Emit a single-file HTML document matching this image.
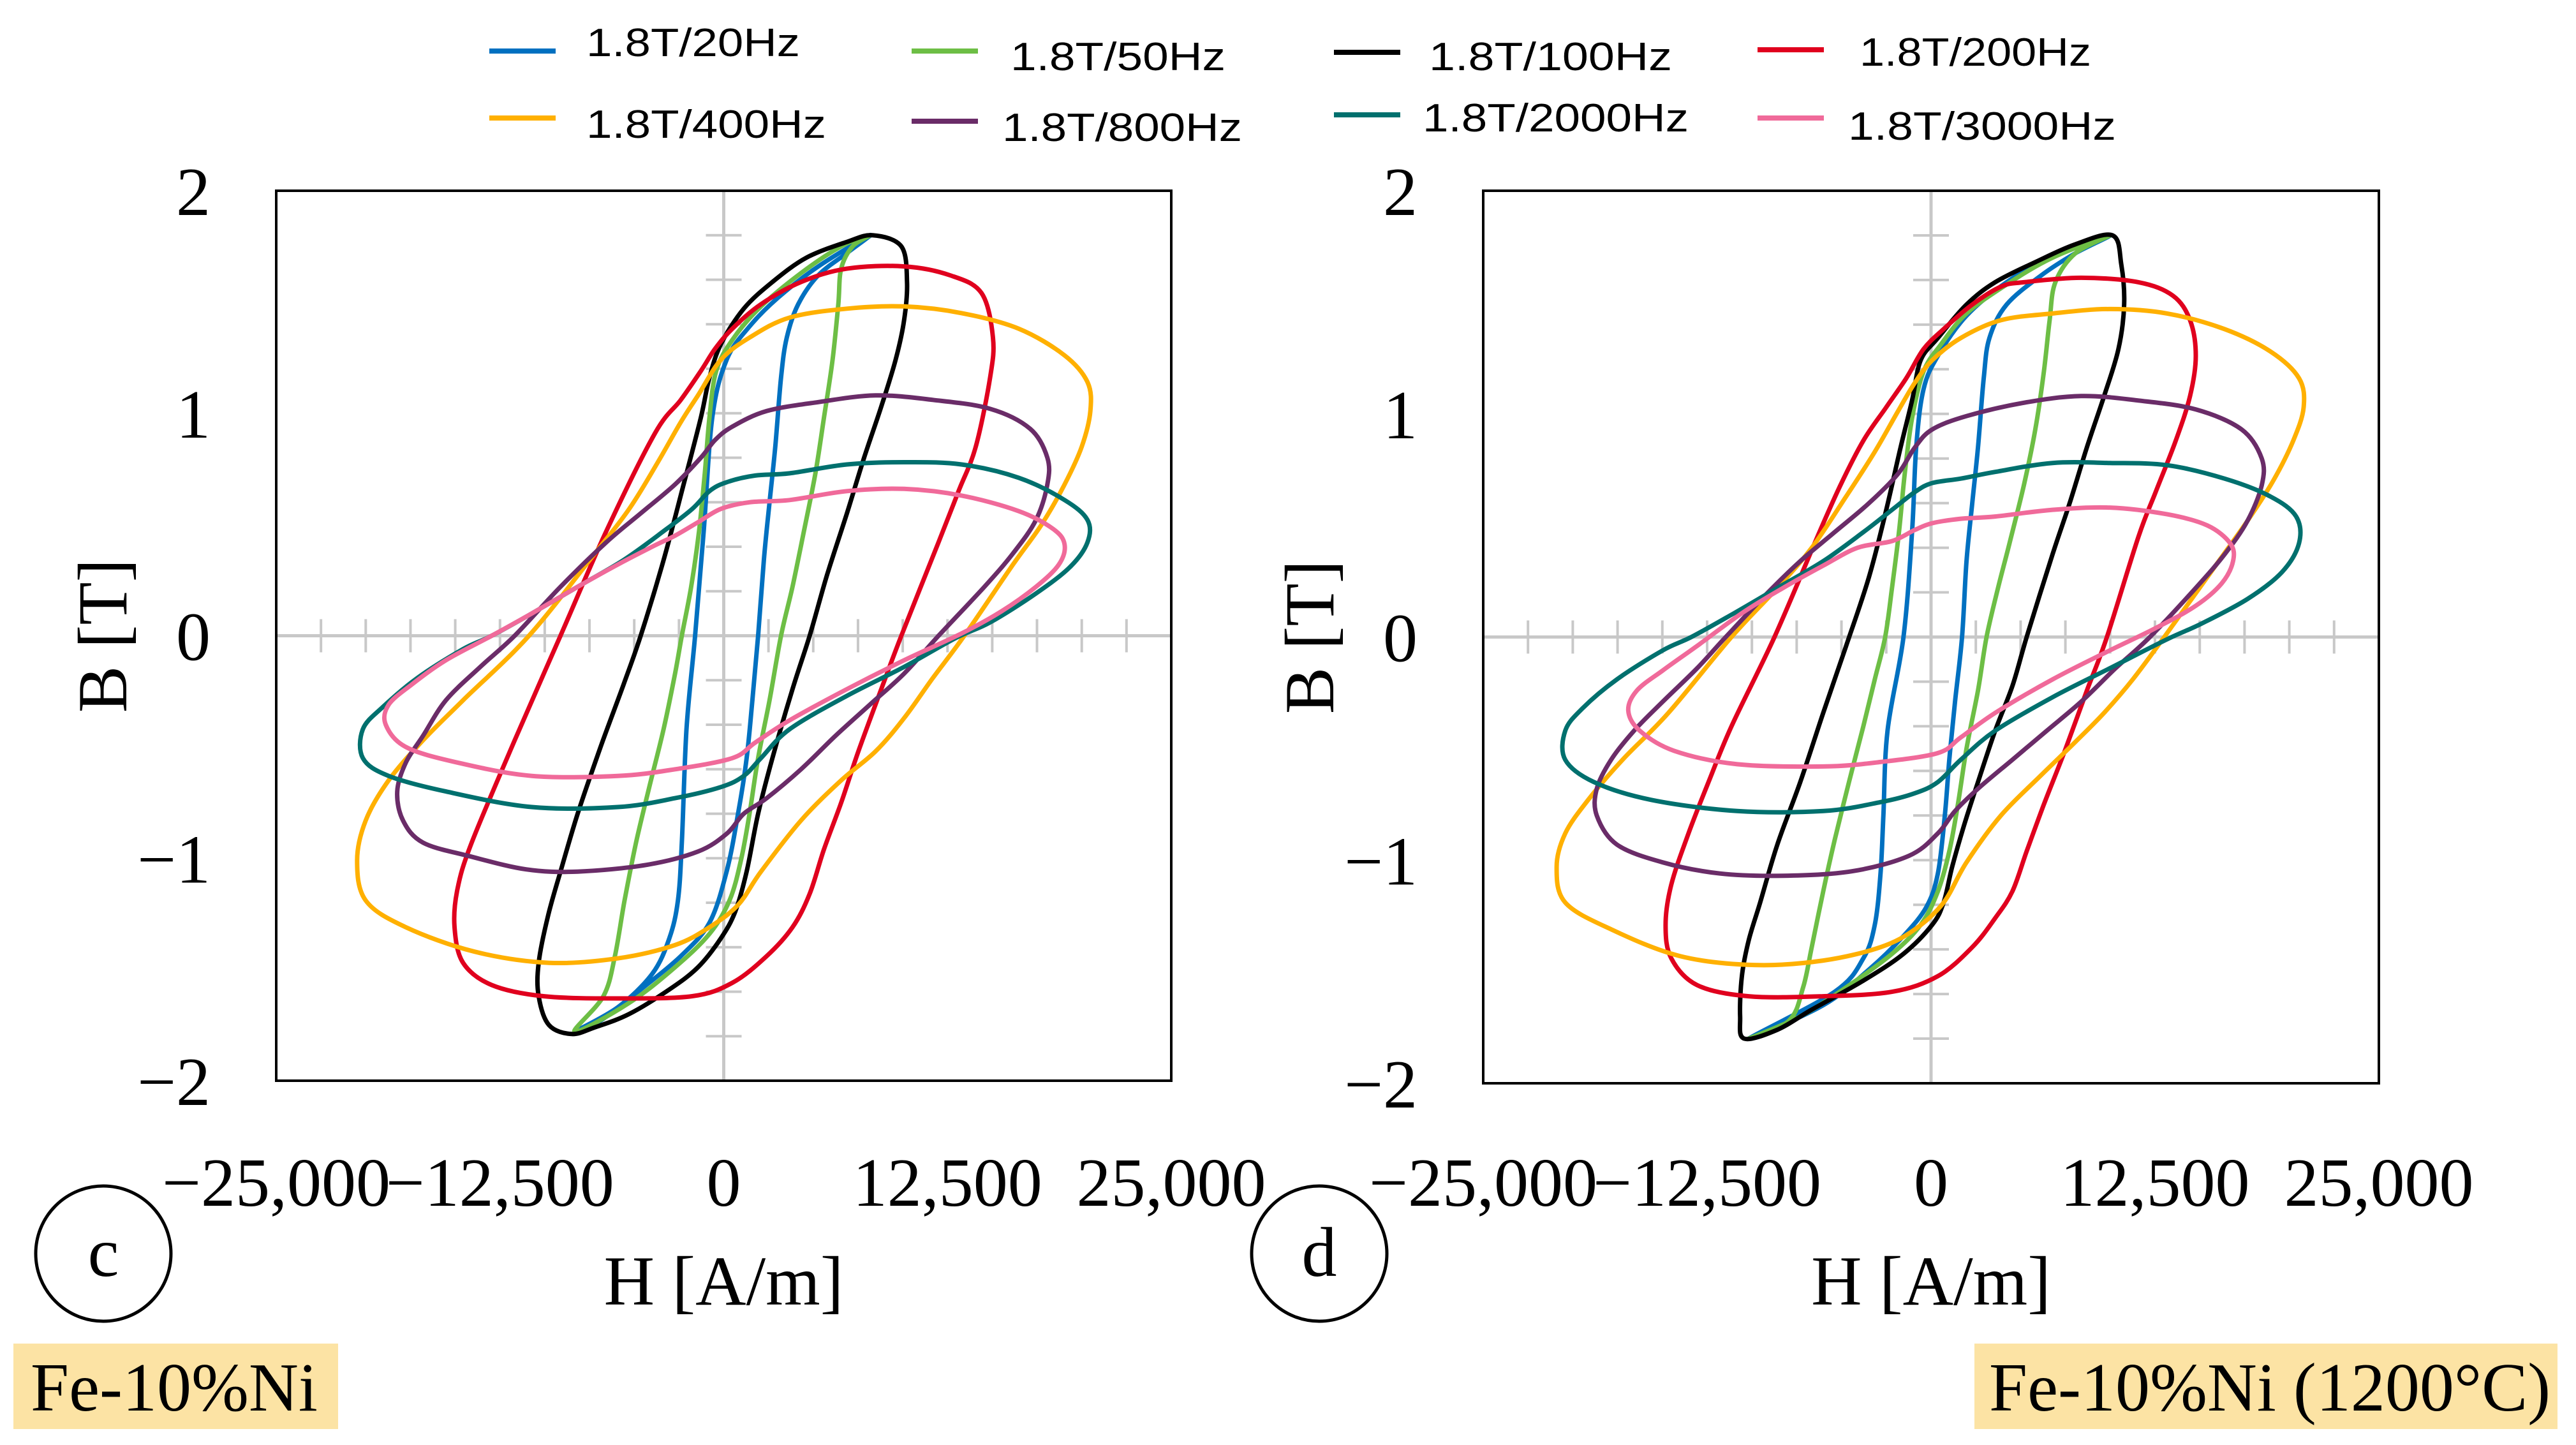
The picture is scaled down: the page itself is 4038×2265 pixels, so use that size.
<!DOCTYPE html>
<html><head><meta charset="utf-8"><style>
html,body{margin:0;padding:0;background:#fff;}
svg{display:block;}
</style></head><body>
<svg id="fig" width="4038" height="2265" viewBox="0 0 4038 2265" xmlns="http://www.w3.org/2000/svg">
<rect x="0" y="0" width="4038" height="2265" fill="#fff"/>
<g id="legend"></g>
<g id="panelC"></g>
<g id="panelD"></g>
<g>
  <circle cx="162" cy="1965" r="106" fill="none" stroke="#000" stroke-width="5"/>
  <text x="162" y="2000" font-family="Liberation Serif, serif" font-size="110" text-anchor="middle">c</text>
  <rect x="21" y="2106" width="509" height="134" fill="#FCE3A4"/>
  <text x="48" y="2211" font-family="Liberation Serif, serif" font-size="108">Fe-10%Ni</text>
</g>
<g>
  <circle cx="2068" cy="1965" r="106" fill="none" stroke="#000" stroke-width="5"/>
  <text x="2068" y="2000" font-family="Liberation Serif, serif" font-size="110" text-anchor="middle">d</text>
  <rect x="3095" y="2106" width="914" height="134" fill="#FCE3A4"/>
  <text x="3118" y="2211" font-family="Liberation Serif, serif" font-size="108">Fe-10%Ni (1200°C)</text>
</g>
</svg>
<script>
// ---------- data ----------
const seriesNames = ["1.8T/20Hz","1.8T/50Hz","1.8T/100Hz","1.8T/200Hz","1.8T/400Hz","1.8T/800Hz","1.8T/2000Hz","1.8T/3000Hz"];
const seriesColors = ["#0070C0","#6DBE45","#000000","#E0001E","#FFB000","#6A2C68","#00706E","#F06A9A"];
const xTickLabels = ["\u221225,000","\u221212,500","0","12,500","25,000"];
const xTickValues = [-25000,-12500,0,12500,25000];
const yTickLabels = ["2","1","0","\u22121","\u22122"];
const yTickValues = [2,1,0,-1,-2];

// Panel c (Fe-10%Ni)
const c20H=[8160,6880,5280,4160,3520,3200,2880,2560,2240,1920,1600,1280,800,160,-800,-2400,-4640,-6880,-8320,-5920,-4000,-3040,-2560,-2340,-2080,-1600,-1120,-640,160,1440,3040,5280];
const c20B=[1.80,1.72,1.62,1.49,1.34,1.16,0.85,0.60,0.34,0,-0.29,-0.55,-0.80,-1.06,-1.29,-1.44,-1.59,-1.73,-1.78,-1.67,-1.52,-1.36,-1.19,-0.93,-0.42,0,0.47,0.98,1.24,1.39,1.52,1.66];
const c50H=[8160,7200,6560,6400,6080,5600,5120,4480,3840,3200,2560,1920,1440,960,320,-800,-2720,-5280,-8320,-6720,-6080,-5540,-4900,-4160,-3360,-2720,-2340,-1820,-1380,-1060,-800,-420,480,2080,4320,6560];
const c50B=[1.80,1.75,1.65,1.49,1.24,0.98,0.73,0.47,0.22,0,-0.29,-0.55,-0.80,-1.01,-1.19,-1.34,-1.49,-1.65,-1.78,-1.62,-1.44,-1.19,-0.93,-0.68,-0.42,-0.17,0,0.22,0.47,0.73,0.98,1.19,1.33,1.48,1.63,1.75];
const c100H=[8320,9920,10240,10080,9600,8800,7840,6880,5760,4800,3840,2720,1920,1280,640,-160,-1440,-3040,-5280,-7200,-8480,-9760,-10340,-10340,-9820,-9120,-8160,-6880,-5600,-4640,-3360,-2240,-1280,-800,-160,1120,2720,4640,6880];
const c100B=[1.80,1.75,1.59,1.42,1.24,1.03,0.80,0.55,0.27,0,-0.24,-0.55,-0.80,-1.06,-1.24,-1.36,-1.49,-1.59,-1.70,-1.76,-1.79,-1.75,-1.62,-1.47,-1.26,-1.06,-0.80,-0.50,-0.22,0,0.34,0.68,0.98,1.16,1.31,1.47,1.59,1.70,1.77];
const c200H=[6880,10080,12640,14400,15040,14880,14080,13120,12000,9920,8800,7520,6560,5600,4800,3840,2400,480,-1760,-5920,-10080,-12960,-14560,-15040,-14880,-14080,-11680,-9120,-6560,-3840,-2400,-1280,-480,480,2080,4320];
const c200B=[1.65,1.66,1.62,1.54,1.34,1.16,0.85,0.65,0.42,0,-0.24,-0.52,-0.75,-0.96,-1.16,-1.31,-1.44,-1.56,-1.62,-1.63,-1.62,-1.57,-1.47,-1.31,-1.14,-0.93,-0.47,0,0.47,0.91,1.06,1.19,1.29,1.38,1.49,1.59];
const c400H=[6880,10080,13280,16480,19040,20320,20480,20000,19040,17760,16160,13440,11680,10080,8480,6560,4320,2080,800,-800,-2720,-5920,-9760,-13920,-17760,-20000,-20480,-20000,-18720,-16800,-14560,-10880,-7200,-5280,-3680,-2400,-1440,-160,1440,3680];
const c400B=[1.47,1.48,1.45,1.38,1.26,1.14,1.01,0.85,0.68,0.50,0.32,0,-0.19,-0.37,-0.52,-0.65,-0.83,-1.06,-1.21,-1.31,-1.39,-1.45,-1.47,-1.42,-1.31,-1.19,-1.01,-0.83,-0.65,-0.47,-0.29,0,0.37,0.57,0.78,0.96,1.08,1.24,1.34,1.43];
const c800H=[5280,8480,11680,14880,17120,18080,18080,17440,16160,14560,12000,10080,8160,6240,4320,2400,1120,160,-1440,-4320,-8160,-11040,-14240,-16800,-17920,-18240,-17760,-16800,-15520,-13600,-11680,-9120,-6560,-4640,-2720,-1280,-480,480,2400];
const c800B=[1.05,1.08,1.06,1.02,0.93,0.80,0.68,0.52,0.37,0.22,0,-0.17,-0.31,-0.45,-0.60,-0.73,-0.80,-0.89,-0.97,-1.03,-1.06,-1.05,-0.99,-0.93,-0.83,-0.70,-0.57,-0.45,-0.29,-0.14,0,0.22,0.42,0.55,0.68,0.80,0.88,0.94,1.01];
const c2000H=[3680,6880,10080,13280,16480,19040,20320,20320,19360,17440,14880,12960,10080,6880,3680,2080,1120,-160,-2720,-5920,-10720,-15520,-18720,-20160,-20160,-19040,-17120,-14560,-12960,-10720,-8160,-5600,-3360,-1760,-800,160,1760];
const c2000B=[0.73,0.77,0.78,0.77,0.71,0.61,0.52,0.42,0.31,0.19,0.06,-0.01,-0.14,-0.27,-0.42,-0.55,-0.63,-0.68,-0.73,-0.77,-0.77,-0.70,-0.63,-0.55,-0.42,-0.32,-0.19,-0.06,0,0.10,0.22,0.34,0.47,0.57,0.65,0.69,0.72];
const c3000H=[3680,6880,10080,13280,16480,18400,19040,18720,17440,15520,13280,10080,6880,3680,1760,480,-2720,-5920,-10720,-14880,-17760,-18880,-18720,-17440,-15520,-12960,-10720,-8160,-5920,-4000,-2720,-1440,-160,1440];
const c3000B=[0.61,0.65,0.66,0.63,0.56,0.48,0.41,0.32,0.22,0.11,0.01,-0.11,-0.24,-0.38,-0.48,-0.55,-0.60,-0.63,-0.63,-0.57,-0.50,-0.40,-0.31,-0.22,-0.11,0,0.10,0.22,0.32,0.40,0.45,0.51,0.57,0.60];

// Panel d (Fe-10%Ni 1200°C)
const d20H=[9980,8060,6140,4220,3260,2940,2620,2300,1980,1730,1340,1020,770,380,-260,-1540,-3460,-6020,-10180,-5380,-3780,-3140,-2820,-2660,-2430,-1540,-1060,-830,-420,380,1980,4220,6780];
const d20B=[1.80,1.72,1.62,1.49,1.34,1.16,0.85,0.60,0.34,0,-0.29,-0.55,-0.80,-1.06,-1.21,-1.34,-1.49,-1.65,-1.80,-1.59,-1.44,-1.29,-1.06,-0.80,-0.42,0,0.47,0.85,1.11,1.26,1.44,1.59,1.71];
const d50H=[9980,8060,6940,6620,6300,5820,5180,4380,3740,3100,2620,1980,1500,1020,380,-580,-2180,-4740,-7300,-10180,-7940,-7140,-6660,-6020,-5380,-4580,-3780,-3140,-2560,-2180,-1790,-1470,-1060,-420,540,1980,4220,6780];
const d50B=[1.80,1.72,1.59,1.42,1.19,0.93,0.68,0.42,0.22,0,-0.24,-0.50,-0.75,-0.96,-1.14,-1.29,-1.42,-1.57,-1.70,-1.80,-1.72,-1.57,-1.39,-1.14,-0.91,-0.65,-0.40,-0.19,0,0.22,0.47,0.73,0.98,1.19,1.31,1.45,1.58,1.70];
const d100H=[10140,10620,10780,10460,9660,8700,7740,6780,5340,4540,3580,2620,1820,1180,700,60,-1540,-3780,-6660,-8580,-10430,-10660,-10560,-10180,-9540,-8580,-7300,-6020,-4740,-3460,-2500,-1700,-1060,-580,380,1980,3580,5820,8060];
const d100B=[1.80,1.67,1.49,1.29,1.08,0.85,0.60,0.37,0,-0.22,-0.42,-0.65,-0.85,-1.03,-1.19,-1.29,-1.42,-1.54,-1.67,-1.76,-1.80,-1.70,-1.52,-1.36,-1.19,-0.93,-0.65,-0.34,-0.04,0.27,0.57,0.85,1.06,1.24,1.34,1.49,1.59,1.68,1.76];
const d200H=[5180,8380,11580,13500,14460,14780,14460,13660,12540,11580,9820,8700,7420,6300,5340,4540,3580,2300,380,-2180,-6020,-10180,-13060,-14500,-14820,-14500,-13540,-12420,-11140,-8740,-6340,-5060,-3780,-2500,-1380,-420,700,2300,3900];
const d200B=[1.59,1.61,1.59,1.53,1.42,1.26,1.08,0.88,0.65,0.45,0,-0.24,-0.52,-0.75,-0.96,-1.14,-1.26,-1.39,-1.52,-1.59,-1.61,-1.61,-1.56,-1.44,-1.29,-1.11,-0.88,-0.65,-0.40,0,0.45,0.68,0.88,1.03,1.16,1.29,1.38,1.49,1.57];
const d400H=[6780,9980,13180,16380,18940,20540,20800,20220,19100,17660,16060,13020,11260,9660,8060,6140,3900,1980,700,-900,-2820,-6020,-9860,-14020,-17860,-20420,-20900,-20420,-19140,-17220,-14660,-11140,-8580,-6660,-4740,-3140,-1860,-900,60,1660,3900];
const d400B=[1.45,1.47,1.45,1.38,1.28,1.16,1.03,0.88,0.70,0.52,0.34,0,-0.19,-0.34,-0.47,-0.62,-0.80,-1.01,-1.19,-1.31,-1.39,-1.45,-1.47,-1.43,-1.31,-1.19,-1.03,-0.88,-0.73,-0.55,-0.34,0,0.22,0.40,0.63,0.83,1.01,1.14,1.24,1.34,1.42];
const d800H=[5180,8380,11580,14780,17340,18460,18460,17660,16380,14780,12220,10300,8380,6460,4540,2620,1340,380,-1220,-4420,-8260,-11780,-14980,-17540,-18660,-18660,-17860,-16580,-14980,-13060,-11460,-9220,-7300,-5380,-3460,-1860,-900,60,1980];
const d800B=[1.05,1.08,1.06,1.02,0.93,0.80,0.68,0.52,0.37,0.22,0,-0.14,-0.29,-0.42,-0.55,-0.68,-0.78,-0.88,-0.98,-1.05,-1.07,-1.06,-1.01,-0.93,-0.80,-0.68,-0.55,-0.42,-0.29,-0.14,0,0.19,0.34,0.47,0.60,0.73,0.85,0.93,0.99];
const d2000H=[3580,6780,9980,13180,16380,18940,20380,20540,19580,17660,15100,13180,9980,6780,3580,1660,380,-900,-2820,-6020,-10820,-15620,-18820,-20420,-20420,-19460,-17540,-14980,-13380,-11140,-8580,-6020,-3780,-2180,-900,60,1660];
const d2000B=[0.74,0.78,0.78,0.77,0.71,0.63,0.54,0.42,0.29,0.17,0.06,-0.01,-0.14,-0.27,-0.42,-0.55,-0.65,-0.70,-0.74,-0.78,-0.78,-0.73,-0.65,-0.55,-0.42,-0.32,-0.19,-0.06,0,0.10,0.22,0.34,0.47,0.57,0.65,0.69,0.71];
const d3000H=[3580,6780,9980,13180,15420,16700,16860,16220,14780,12540,9980,6780,3580,1660,380,-2820,-6020,-10820,-14340,-16260,-16900,-16420,-14980,-13060,-10500,-8260,-6020,-4100,-2180,-900,60,1660];
const d3000B=[0.54,0.57,0.58,0.55,0.50,0.42,0.34,0.24,0.14,0.04,-0.06,-0.19,-0.34,-0.45,-0.52,-0.56,-0.58,-0.57,-0.51,-0.42,-0.33,-0.24,-0.15,-0.04,0.11,0.22,0.32,0.40,0.43,0.48,0.51,0.53];

const panelCH=[c20H,c50H,c100H,c200H,c400H,c800H,c2000H,c3000H];
const panelCB=[c20B,c50B,c100B,c200B,c400B,c800B,c2000B,c3000B];
const panelDH=[d20H,d50H,d100H,d200H,d400H,d800H,d2000H,d3000H];
const panelDB=[d20B,d50B,d100B,d200B,d400B,d800B,d2000B,d3000B];

// ---------- drawing ----------
const NS="http://www.w3.org/2000/svg";
function mk(tag,attrs,parent){const e=document.createElementNS(NS,tag);for(const k in attrs)e.setAttribute(k,attrs[k]);parent.appendChild(e);return e;}

function smoothClosed(pts){
  const n=pts.length;let d="M"+pts[0][0].toFixed(1)+","+pts[0][1].toFixed(1);
  for(let i=0;i<n;i++){
    const p0=pts[(i-1+n)%n],p1=pts[i],p2=pts[(i+1)%n],p3=pts[(i+2)%n];
    const c1x=p1[0]+(p2[0]-p0[0])/6,c1y=p1[1]+(p2[1]-p0[1])/6;
    const c2x=p2[0]-(p3[0]-p1[0])/6,c2y=p2[1]-(p3[1]-p1[1])/6;
    d+="C"+c1x.toFixed(1)+","+c1y.toFixed(1)+" "+c2x.toFixed(1)+","+c2y.toFixed(1)+" "+p2[0].toFixed(1)+","+p2[1].toFixed(1);
  }
  return d+"Z";
}

function drawPanel(g,x0,x1,y0,y1,Hs,Bs,prefix){
  const xs=h=>x0+(h+25000)/50000*(x1-x0);
  const ys=b=>y1-(b+2)/4*(y1-y0);
  const ax=xs(0),ay=ys(0);
  const grid="#c8c8c8";
  // zero axes
  let e=mk("line",{x1:x0,y1:ay,x2:x1,y2:ay,stroke:grid,"stroke-width":5},g);
  
  
  e=mk("line",{x1:ax,y1:y0,x2:ax,y2:y1,stroke:grid,"stroke-width":5},g);
  
  
  for(let h=-22500;h<=22500;h+=2500){
    if(h===0)continue;
    e=mk("line",{x1:xs(h),y1:ay-26,x2:xs(h),y2:ay+26,stroke:grid,"stroke-width":4},g);
    
    
  }
  for(let b=-1.8;b<=1.81;b+=0.2){
    if(Math.abs(b)<0.01)continue;
    e=mk("line",{x1:ax-28,y1:ys(b),x2:ax+28,y2:ys(b),stroke:grid,"stroke-width":4},g);
    
    
  }
  // loops
  for(let s=0;s<Hs.length;s++){
    const pts=Hs[s].map((h,i)=>[xs(h),ys(Bs[s][i])]);
    const p=mk("path",{d:smoothClosed(pts),fill:"none",stroke:seriesColors[s],"stroke-width":7,"stroke-linejoin":"round"},g);
    
    
  }
  // frame
  e=mk("rect",{x:x0,y:y0,width:x1-x0,height:y1-y0,fill:"none",stroke:"#000","stroke-width":4},g);
  
  
  // tick labels
  for(let i=0;i<xTickValues.length;i++){
    const t=mk("text",{x:xs(xTickValues[i]),y:1890,"font-family":"Liberation Serif, serif","font-size":108,"text-anchor":"middle"},g);
    t.textContent=xTickLabels[i];
    
    
  }
  for(let i=0;i<yTickValues.length;i++){
    const t=mk("text",{x:x0-103,y:ys(yTickValues[i])+38,"font-family":"Liberation Serif, serif","font-size":108,"text-anchor":"end"},g);
    t.textContent=yTickLabels[i];
    
    
  }
  // axis titles
  let t=mk("text",{x:ax,y:2045,"font-family":"Liberation Serif, serif","font-size":110,"text-anchor":"middle"},g);
  t.textContent="H [A/m]";
  
  
  const tx=x0-271+36, ty=(y0+y1)/2;
  t=mk("text",{x:tx,y:ty,"font-family":"Liberation Serif, serif","font-size":110,"text-anchor":"middle",transform:"rotate(-90 "+tx+" "+ty+")"},g);
  t.textContent="B [T]";
  
  
}

drawPanel(document.getElementById("panelC"),433,1836,299,1694,panelCH,panelCB,"panel-c");
drawPanel(document.getElementById("panelD"),2325,3729,299,1698,panelDH,panelDB,"panel-d");

// legend
const legendLineX=[767,1429,2091,2755,767,1429,2091,2755];
const lg=document.getElementById("legend");
const legendLineY=[80,80,82,78,185,190,180,185];
const legendTextX=[919,1584,2240,2915,919,1571,2230,2897];
const legendTextY=[88,110,110,103,216,221,206,219];
const legendTextW=[335,337,381,363,376,376,417,420];
for(let i=0;i<seriesNames.length;i++){
  const ln=mk("line",{x1:legendLineX[i],y1:legendLineY[i],x2:legendLineX[i]+104,y2:legendLineY[i],stroke:seriesColors[i],"stroke-width":8},lg);
  
  
  const tx=mk("text",{x:legendTextX[i],y:legendTextY[i],"font-family":"Liberation Sans Narrow, Liberation Sans, sans-serif","font-size":62,textLength:legendTextW[i],lengthAdjust:"spacingAndGlyphs"},lg);
  tx.textContent=seriesNames[i];
  
  
}
</script>
</body></html>
